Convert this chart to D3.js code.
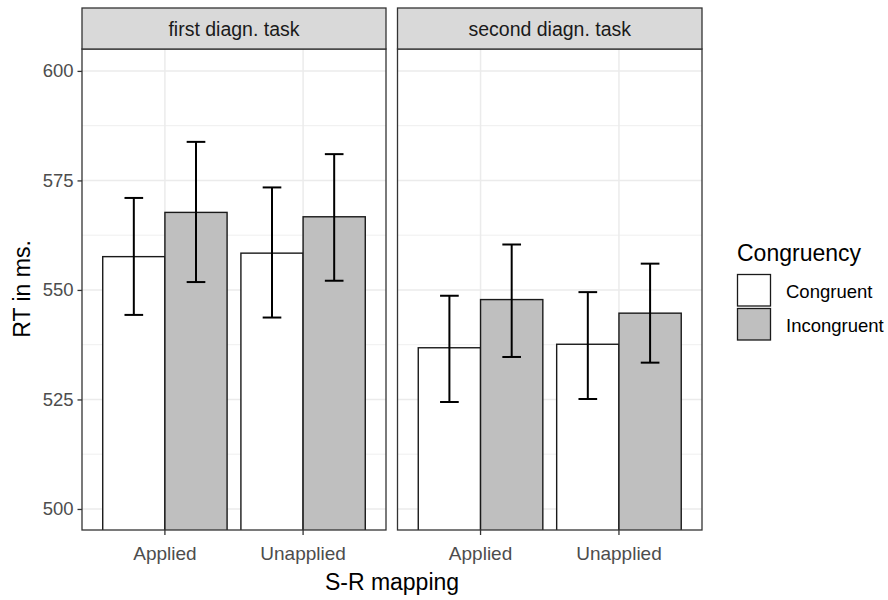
<html>
	<head>
		<style>
			body { margin: 0; background: #fff; }
			text { font-family: "Liberation Sans", Arial, sans-serif; }
		</style>
	</head>
	<body>
		<div id="svg"></div>
	</body>
	<script src="https://cdn.jsdelivr.net/npm/d3@7"></script>
	<script>
		var tasks = ["first diagn. task", "second diagn. task"];
		var mappings = ["Applied", "Unapplied"];
		var congruency = ["Congruent", "Incongruent"];
		var yTicks = [500, 525, 550, 575, 600];
		var yMinor = [512.5, 537.5, 562.5, 587.5];

		// order: Applied/Congruent, Applied/Incongruent, Unapplied/Congruent, Unapplied/Incongruent
		var rtFirst = [557.6, 567.7, 558.4, 566.7];
		var lowFirst = [544.3, 551.8, 543.7, 552.1];
		var highFirst = [571.0, 583.8, 573.4, 581.0];
		var rtSecond = [536.8, 547.8, 537.6, 544.7];
		var lowSecond = [524.4, 534.7, 525.1, 533.4];
		var highSecond = [548.7, 560.4, 549.5, 556.0];

		var fills = ["#ffffff", "#bfbfbf"];
		var width = 888, height = 600;

		var svg = d3.select("#svg")
			.append("svg")
				.attr("width", width)
				.attr("height", height);

		var panelTop = 49, panelBottom = 530, stripTop = 8;
		var panels = [
			{ name: tasks[0], left: 82, right: 386, rt: rtFirst, low: lowFirst, high: highFirst },
			{ name: tasks[1], left: 397.5, right: 702, rt: rtSecond, low: lowSecond, high: highSecond }
		];

		var y = d3.scaleLinear()
			.domain([495.2, 605])
			.range([panelBottom, panelTop]);

		panels.forEach(function(p, pi) {
			var x = d3.scaleBand()
				.domain(mappings)
				.range([p.left, p.right])
				.paddingInner(0)
				.paddingOuter(0.1);
			var step = x.step();
			var dodge = d3.scaleBand()
				.domain(congruency)
				.range([-0.45 * step, 0.45 * step]);

			var g = svg.append("g");

			g.append("clipPath").attr("id", "clip" + pi)
				.append("rect")
					.attr("x", p.left).attr("y", panelTop)
					.attr("width", p.right - p.left).attr("height", panelBottom - panelTop);

			// grid
			g.selectAll(".minor").data(yMinor).enter().append("line")
				.attr("x1", p.left).attr("x2", p.right)
				.attr("y1", function(d) { return y(d); }).attr("y2", function(d) { return y(d); })
				.attr("stroke", "#ebebeb").attr("stroke-width", 0.8);
			g.selectAll(".major").data(yTicks).enter().append("line")
				.attr("x1", p.left).attr("x2", p.right)
				.attr("y1", function(d) { return y(d); }).attr("y2", function(d) { return y(d); })
				.attr("stroke", "#ebebeb").attr("stroke-width", 1.5);
			g.selectAll(".vgrid").data(mappings).enter().append("line")
				.attr("x1", function(d) { return x(d) + step / 2; }).attr("x2", function(d) { return x(d) + step / 2; })
				.attr("y1", panelTop).attr("y2", panelBottom)
				.attr("stroke", "#ebebeb").attr("stroke-width", 1.5);

			var rows = [];
			mappings.forEach(function(m, mi) {
				congruency.forEach(function(c, ci) {
					var k = mi * 2 + ci;
					rows.push({ m: m, c: c, ci: ci, rt: p.rt[k], low: p.low[k], high: p.high[k] });
				});
			});

			var marks = g.append("g").attr("clip-path", "url(#clip" + pi + ")");
			marks.selectAll("rect.bar").data(rows).enter().append("rect")
				.attr("x", function(d) { return x(d.m) + step / 2 + dodge(d.c); })
				.attr("width", dodge.bandwidth())
				.attr("y", function(d) { return y(d.rt); })
				.attr("height", function(d) { return panelBottom + 5 - y(d.rt); })
				.attr("fill", function(d) { return fills[d.ci]; })
				.attr("stroke", "#1a1a1a").attr("stroke-width", 1.4);

			var cap = 0.135 * step / 2;
			rows.forEach(function(d) {
				var cx = x(d.m) + step / 2 + dodge(d.c) + dodge.bandwidth() / 2;
				var e = marks.append("g").attr("stroke", "#000").attr("stroke-width", 2);
				e.append("line").attr("x1", cx).attr("x2", cx).attr("y1", y(d.low)).attr("y2", y(d.high));
				e.append("line").attr("x1", cx - cap).attr("x2", cx + cap).attr("y1", y(d.low)).attr("y2", y(d.low));
				e.append("line").attr("x1", cx - cap).attr("x2", cx + cap).attr("y1", y(d.high)).attr("y2", y(d.high));
			});

			// panel border
			g.append("rect")
				.attr("x", p.left).attr("y", panelTop)
				.attr("width", p.right - p.left).attr("height", panelBottom - panelTop)
				.attr("fill", "none").attr("stroke", "#333333").attr("stroke-width", 1.3);

			// strip
			g.append("rect")
				.attr("x", p.left).attr("y", stripTop)
				.attr("width", p.right - p.left).attr("height", panelTop - stripTop)
				.attr("fill", "#d9d9d9").attr("stroke", "#333333").attr("stroke-width", 1.3);
			g.append("text")
				.attr("x", (p.left + p.right) / 2).attr("y", (stripTop + panelTop) / 2)
				.attr("text-anchor", "middle").attr("dominant-baseline", "central")
				.attr("font-size", 19.5).attr("fill", "#1a1a1a")
				.text(p.name);

			// x axis
			var xAxis = d3.axisBottom(x).tickSize(5).tickPadding(12);
			var ax = svg.append("g").attr("transform", "translate(0," + panelBottom + ")").call(xAxis);
			ax.select(".domain").remove();
			ax.selectAll(".tick line").attr("stroke", "#333333").attr("stroke-width", 1.3);
			ax.selectAll(".tick text").attr("font-size", 19).attr("fill", "#4d4d4d")
				.attr("font-family", "Liberation Sans, Arial, sans-serif");
		});

		// y axis
		var yAxis = d3.axisLeft(y).tickValues(yTicks).tickSize(4.5).tickPadding(4);
		var ay = svg.append("g").attr("transform", "translate(82,0)").call(yAxis);
		ay.select(".domain").remove();
		ay.selectAll(".tick line").attr("stroke", "#333333").attr("stroke-width", 1.3);
		ay.selectAll(".tick text").attr("font-size", 18.5).attr("fill", "#4d4d4d")
			.attr("font-family", "Liberation Sans, Arial, sans-serif");

		// axis titles
		svg.append("text")
			.attr("x", 392).attr("y", 590)
			.attr("text-anchor", "middle").attr("font-size", 23).attr("fill", "#000")
			.text("S-R mapping");
		svg.append("text")
			.attr("transform", "translate(30,289) rotate(-90)")
			.attr("text-anchor", "middle").attr("font-size", 23).attr("fill", "#000")
			.text("RT in ms.");

		// legend
		var legend = svg.append("g");
		legend.append("text")
			.attr("x", 737).attr("y", 261)
			.attr("font-size", 23).attr("fill", "#000")
			.text("Congruency");
		congruency.forEach(function(c, i) {
			var top = 274 + i * 34;
			legend.append("rect")
				.attr("x", 737.5).attr("y", top + 0.5)
				.attr("width", 33).attr("height", 31.5)
				.attr("fill", fills[i]).attr("stroke", "#1a1a1a").attr("stroke-width", 1.3);
			legend.append("text")
				.attr("x", 786).attr("y", top + 17)
				.attr("dominant-baseline", "central")
				.attr("font-size", 18.5).attr("fill", "#000")
				.text(c);
		});
	</script>
</html>
